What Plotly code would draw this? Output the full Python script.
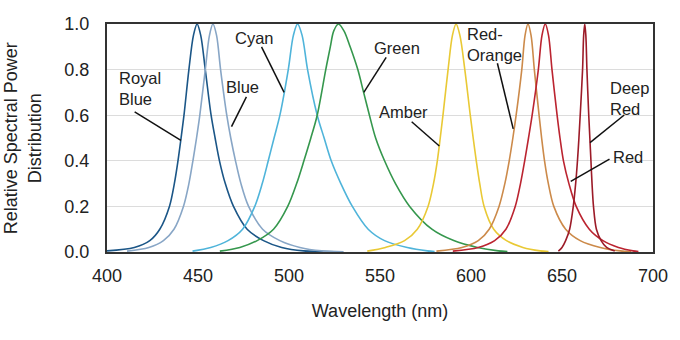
import plotly.graph_objects as go

# LED emission spectra, normalised to peak = 1.0 (wavelength in nm, relative power)
royal_blue_nm = [400, 415, 423.5, 429.0, 434.3, 437.0, 439.0, 440.7, 442.3, 445.0, 447.5, 449.5,
                 451.5, 454.0, 457.2, 459.4, 461.8, 465.0, 469.5, 477.0, 486.0, 496.0, 508.0, 525.0]
royal_blue_val = [0.005, 0.02, 0.05, 0.1, 0.2, 0.3, 0.4, 0.5, 0.6, 0.8, 0.95, 1.0,
                  0.95, 0.8, 0.6, 0.5, 0.4, 0.3, 0.2, 0.1, 0.05, 0.02, 0.005, 0.001]

blue_nm = [411, 423, 431.0, 436.8, 442.0, 445.0, 447.2, 449.2, 451.0, 454.0, 456.3, 458.2,
           460.2, 462.4, 465.8, 468.0, 470.6, 473.6, 477.8, 485.5, 495.0, 506.0, 518.0, 530.0]
blue_val = [0.004, 0.02, 0.05, 0.1, 0.2, 0.3, 0.4, 0.5, 0.6, 0.8, 0.95, 1.0,
            0.95, 0.8, 0.6, 0.5, 0.4, 0.3, 0.2, 0.1, 0.05, 0.02, 0.005, 0.001]

cyan_nm = [447, 457, 466.5, 474.5, 481.2, 485.3, 488.6, 491.8, 495.0, 499.6, 502.4, 504.7,
           507.2, 510.2, 515.5, 519.3, 523.2, 528.5, 534.8, 543.5, 552.5, 565.0, 576.0, 580.0]
cyan_val = [0.004, 0.02, 0.05, 0.1, 0.2, 0.3, 0.4, 0.5, 0.6, 0.8, 0.95, 1.0,
            0.95, 0.8, 0.6, 0.5, 0.4, 0.3, 0.2, 0.1, 0.05, 0.02, 0.005, 0.002]

green_nm = [462, 473, 482.5, 491.5, 499.3, 504.2, 508.2, 512.0, 515.5, 520.2, 522.7, 524.6, 527.2,
            530.2, 533.6, 537.8, 541.0, 544.2, 547.6, 552.5, 558.5, 566.3, 578.5, 590.5, 603.5, 615.0, 620.0]
green_val = [0.004, 0.02, 0.05, 0.1, 0.2, 0.3, 0.4, 0.5, 0.6, 0.8, 0.9, 0.97, 1.0,
             0.97, 0.9, 0.8, 0.7, 0.6, 0.5, 0.4, 0.3, 0.2, 0.1, 0.05, 0.02, 0.005, 0.002]

amber_nm = [543, 553, 563.5, 570.5, 576.4, 579.4, 581.5, 583.1, 584.6, 587.4, 589.8, 591.8,
            593.9, 596.6, 599.6, 601.2, 602.9, 604.8, 607.2, 612.5, 619.5, 628.5, 638.0, 642.6]
amber_val = [0.004, 0.02, 0.05, 0.1, 0.2, 0.3, 0.4, 0.5, 0.6, 0.8, 0.95, 1.0,
             0.95, 0.8, 0.6, 0.5, 0.4, 0.3, 0.2, 0.1, 0.05, 0.02, 0.005, 0.002]

red_orange_nm = [581, 595, 604.0, 610.0, 615.4, 618.6, 621.0, 623.0, 624.8, 627.9, 629.7, 631.3,
                 633.0, 634.8, 637.4, 638.8, 640.4, 642.5, 645.5, 652.0, 660.0, 671.0, 682.0, 688.0]
red_orange_val = [0.004, 0.02, 0.05, 0.1, 0.2, 0.3, 0.4, 0.5, 0.6, 0.8, 0.95, 1.0,
                  0.95, 0.8, 0.6, 0.5, 0.4, 0.3, 0.2, 0.1, 0.05, 0.02, 0.005, 0.002]

red_nm = [590, 604, 613.0, 619.2, 624.3, 627.2, 629.5, 631.6, 633.6, 637.0, 639.0, 640.8,
          642.6, 644.5, 647.3, 648.9, 650.8, 653.8, 657.8, 665.0, 672.5, 681.0, 689.0, 692.0]
red_val = [0.004, 0.02, 0.05, 0.1, 0.2, 0.3, 0.4, 0.5, 0.6, 0.8, 0.95, 1.0,
           0.95, 0.8, 0.6, 0.5, 0.4, 0.3, 0.2, 0.1, 0.05, 0.02, 0.005, 0.002]

deep_red_nm = [648, 650.0, 652.0, 654.2, 656.2, 657.5, 658.5, 659.3, 660.0, 661.3, 661.9, 662.5,
               663.1, 663.7, 664.7, 665.3, 665.9, 666.5, 667.3, 668.9, 671.5, 674.5, 679.0]
deep_red_val = [0.004, 0.02, 0.05, 0.1, 0.2, 0.3, 0.4, 0.5, 0.6, 0.8, 0.95, 1.0,
                0.95, 0.8, 0.6, 0.5, 0.4, 0.3, 0.2, 0.1, 0.05, 0.02, 0.004]

series = [
    ("Royal Blue", royal_blue_nm, royal_blue_val, "#1b5687"),
    ("Blue", blue_nm, blue_val, "#88a6c6"),
    ("Cyan", cyan_nm, cyan_val, "#4fb4da"),
    ("Green", green_nm, green_val, "#35974d"),
    ("Amber", amber_nm, amber_val, "#e9c935"),
    ("Red-Orange", red_orange_nm, red_orange_val, "#cc8a4a"),
    ("Red", red_nm, red_val, "#bb2430"),
    ("Deep Red", deep_red_nm, deep_red_val, "#9c1b28"),
]

# Callout labels: text, text position, anchor, leader line start/end (nm, relative power)
callouts = [
    ("Royal<br>Blue", 405.4, 0.719, "left", (415.2, 0.615), (440.6, 0.49)),
    ("Blue", 474.5, 0.722, "center", (476.6, 0.680), (468.4, 0.55)),
    ("Cyan", 481.3, 0.939, "center", (484.9, 0.900), (497.3, 0.70)),
    ("Green", 559.5, 0.895, "center", (553.4, 0.854), (541.1, 0.70)),
    ("Amber", 563.0, 0.614, "center", (567.4, 0.571), (582.6, 0.465)),
    ("Red-<br>Orange", 596.7, 0.912, "left", (614.5, 0.828), (623.2, 0.54)),
    ("Deep<br>Red", 675.5, 0.675, "left", (684.2, 0.601), (665.4, 0.48)),
    ("Red", 686.1, 0.417, "center", (676.1, 0.407), (654.8, 0.31)),
]

FONT = "Liberation Sans, Arial, sans-serif"
TEXT = "#222222"

fig = go.Figure()
for name, x, y, color in series:
    fig.add_trace(go.Scatter(
        x=x, y=y, mode="lines", name=name,
        line=dict(color=color, width=1.6, shape="spline", smoothing=0.9),
        hoverinfo="x+y+name",
    ))

for text, tx, ty, anchor, p0, p1 in callouts:
    fig.add_shape(type="line", xref="x", yref="y",
                  x0=p0[0], y0=p0[1], x1=p1[0], y1=p1[1],
                  line=dict(color="#111111", width=1.5))
    fig.add_annotation(x=tx, y=ty, xref="x", yref="y", text=text,
                       showarrow=False, xanchor=anchor, yanchor="middle",
                       align="left", font=dict(family=FONT, size=16.5, color=TEXT))

# Two-line rotated y-axis title
fig.add_annotation(x=-0.155, y=0.5, xref="paper", yref="paper",
                   text="Relative Spectral Power<br>Distribution",
                   textangle=-90, showarrow=False, xanchor="center", yanchor="middle",
                   font=dict(family=FONT, size=18, color=TEXT))

fig.update_layout(
    width=680, height=340,
    margin=dict(l=107, r=21, t=24, b=88),
    plot_bgcolor="white", paper_bgcolor="white",
    showlegend=False,
    font=dict(family=FONT, size=18, color=TEXT),
    xaxis=dict(
        range=[400, 700], tickvals=[400, 450, 500, 550, 600, 650, 700],
        showgrid=False, zeroline=False,
        showline=True, linecolor="#333333", linewidth=2, mirror=True,
        ticks="", ticklen=0, ticklabelstandoff=6,
        title=dict(text="Wavelength (nm)", standoff=20, font=dict(size=18)),
        tickfont=dict(size=18),
    ),
    yaxis=dict(
        range=[0, 1.0], tickvals=[0, 0.2, 0.4, 0.6, 0.8, 1.0], tickformat=".1f",
        showgrid=True, gridcolor="#dcdcdc", gridwidth=1, zeroline=False,
        showline=True, linecolor="#333333", linewidth=2, mirror=True,
        ticks="", ticklen=0, ticklabelstandoff=12, tickfont=dict(size=18),
    ),
)

fig.write_html("out.html")
